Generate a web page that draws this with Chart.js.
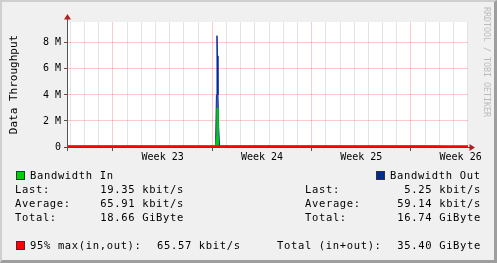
<!DOCTYPE html>
<html><head><meta charset="utf-8">
<script src="https://cdn.jsdelivr.net/npm/chart.js@4"></script>
<style>
html,body{margin:0;padding:0;background:#f0f0f0}
#wrap{position:relative;width:497px;height:263px;background:#f0f0f0;overflow:hidden}
#shade{position:absolute;left:0;top:0;width:497px;height:263px;box-sizing:border-box;border-style:solid;border-width:2px 3px 3px 2px;border-color:#cfcfcf #9e9e9e #9e9e9e #cfcfcf}
#c{position:absolute;left:0;top:0}
.t{position:absolute;font-family:'DejaVu Sans Mono',monospace;font-size:10.5px;letter-spacing:0.65px;line-height:12px;white-space:pre;color:#000}
.r{left:0;text-align:right}
.sq{position:absolute;width:9px;height:9px;box-sizing:border-box;border:1px solid #333}
.wm{position:absolute;left:482px;top:7px;writing-mode:vertical-rl;font-family:'DejaVu Sans Mono',monospace;font-size:8.3px;line-height:10px;color:#bbb;white-space:pre}
</style></head>
<body>
<div id="wrap">
<div id="shade"></div>
<canvas id="c" width="497" height="263"></canvas>
<div class="wm">RRDTOOL / TOBI OETIKER</div>
<div class="sq" style="left:16px;top:171px;background:#00cf00"></div>
<div class="t" style="left:30px;top:169px">Bandwidth In</div>
<div class="t" style="left:15px;top:183px">Last:</div>
<div class="t r" style="width:184px;top:183px">19.35 kbit/s</div>
<div class="t" style="left:15px;top:197px">Average:</div>
<div class="t r" style="width:184px;top:197px">65.91 kbit/s</div>
<div class="t" style="left:15px;top:211px">Total:</div>
<div class="t r" style="width:184px;top:211px">18.66 GiByte</div>
<div class="sq" style="left:376px;top:171px;background:#002a97"></div>
<div class="t" style="left:390px;top:169px">Bandwidth Out</div>
<div class="t" style="left:305px;top:183px">Last:</div>
<div class="t r" style="width:481px;top:183px">5.25 kbit/s</div>
<div class="t" style="left:305px;top:197px">Average:</div>
<div class="t r" style="width:481px;top:197px">59.14 kbit/s</div>
<div class="t" style="left:305px;top:211px">Total:</div>
<div class="t r" style="width:481px;top:211px">16.74 GiByte</div>
<div class="sq" style="left:16px;top:241px;background:#ff0000"></div>
<div class="t" style="left:30px;top:239px">95% max(in,out):</div>
<div class="t" style="left:157px;top:239px">65.57 kbit/s</div>
<div class="t" style="left:277px;top:239px">Total (in+out):</div>
<div class="t r" style="width:481px;top:239px">35.40 GiByte</div>
</div>
<script>
// ---- data (time in days from left edge of graph, rates in bit/s) ----
const dayPoints = [0, 1.5, 3, 4.5, 6, 7.5, 9, 10.2, 10.40, 10.46, 10.50, 10.53, 10.57, 10.62, 10.68, 11, 12.5, 14, 15.5, 17, 18.5, 20, 21.5, 23, 24.5, 26, 27.5, 28.19];
const inBps  = [52000, 61000, 58000, 64000, 55000, 60000, 57000, 59000, 60000, 800000, 2900000, 3000000, 1200000, 60000, 60000, 62000, 66000, 71000, 58000, 63000, 60000, 55000, 61000, 57000, 64000, 59000, 22000, 19350];
const outBps = [48000, 55000, 52000, 57000, 50000, 54000, 51000, 53000, 50000, 4000000, 8550000, 7000000, 4000000, 1500000, 50000, 56000, 60000, 63000, 52000, 57000, 55000, 49000, 54000, 51000, 58000, 53000, 9000, 5250];
const pct95Bps = 65570;
const xMinDay = 0, xMaxDay = 28.19;
const weekStartDays = [3.17, 10.17, 17.17, 24.17];
const weekLabels = ['Week 23', 'Week 24', 'Week 25', 'Week 26'];
const yTickValues = [0, 1e6, 2e6, 3e6, 4e6, 5e6, 6e6, 7e6, 8e6, 9e6];
const yLabels = {0: '0', 2e6: '2 M', 4e6: '4 M', 6e6: '6 M', 8e6: '8 M'};
const yMax = 9.6e6;

const weekMid = weekStartDays.map(d => d + 3.5);
const near = (a, b) => Math.abs(a - b) < 0.005;
const isWeekStart = v => weekStartDays.some(w => near(w, v));
const isDayLine = v => Math.abs((v - weekStartDays[0]) - Math.round(v - weekStartDays[0])) < 0.005;
const labelFor = v => { const i = weekMid.findIndex(m => near(m, v)); return i >= 0 ? weekLabels[i] : ''; };

const MGRID = 'rgba(240,64,64,0.28)';
const GRID = 'rgba(143,143,143,0.25)';

Chart.defaults.font.family = "'DejaVu Sans Mono', monospace";
Chart.defaults.color = '#000';

const axisDeco = {
  id: 'axisDeco',
  beforeDraw(chart) {
    const {ctx, chartArea: a} = chart;
    ctx.save();
    ctx.fillStyle = '#ffffff';
    ctx.fillRect(a.left, a.top, a.right - a.left, a.bottom - a.top);
    ctx.restore();
  },
  beforeDatasetsDraw(chart) {
    const {ctx, chartArea: a} = chart;
    ctx.save();
    ctx.lineWidth = 1;
    ctx.strokeStyle = '#b02020';
    ctx.beginPath(); ctx.moveTo(a.left - 4, a.bottom + 0.5); ctx.lineTo(a.right + 3, a.bottom + 0.5); ctx.stroke();
    ctx.restore();
  },
  afterDraw(chart) {
    const {ctx, chartArea: a} = chart;
    ctx.save();
    ctx.lineWidth = 1;
    ctx.strokeStyle = '#555';
    ctx.beginPath(); ctx.moveTo(a.left - 0.5, a.bottom + 4); ctx.lineTo(a.left - 0.5, a.top - 3); ctx.stroke();
    ctx.fillStyle = '#b02020';
    ctx.beginPath();
    ctx.moveTo(a.left - 0.5, a.top - 8); ctx.lineTo(a.left - 4, a.top - 2.5); ctx.lineTo(a.left + 3, a.top - 2.5); ctx.closePath(); ctx.fill();
    ctx.beginPath();
    ctx.moveTo(a.right + 7, a.bottom + 0.5); ctx.lineTo(a.right + 1.5, a.bottom - 3); ctx.lineTo(a.right + 1.5, a.bottom + 4); ctx.closePath(); ctx.fill();
    ctx.restore();
  }
};

new Chart(document.getElementById('c'), {
  type: 'line',
  data: {
    datasets: [
      {
        label: '95% max(in,out)',
        data: [{x: xMinDay, y: pct95Bps}, {x: xMaxDay, y: pct95Bps}],
        borderColor: '#ff0000', borderWidth: 2, pointRadius: 0, fill: false, order: 0
      },
      {
        label: 'Bandwidth In',
        data: dayPoints.map((d, i) => ({x: d, y: inBps[i]})),
        borderColor: '#00cf00', backgroundColor: '#00cf00', borderWidth: 1,
        pointRadius: 0, fill: 'origin', tension: 0, order: 1
      },
      {
        label: 'Bandwidth Out',
        data: dayPoints.map((d, i) => ({x: d, y: outBps[i]})),
        borderColor: '#002a97', backgroundColor: '#4a6cd0', borderWidth: 1,
        pointRadius: 0, fill: 'origin', tension: 0, order: 2
      }
    ]
  },
  options: {
    responsive: false, animation: false, devicePixelRatio: 1,
    layout: {padding: {left: 0, top: 22, right: 29, bottom: 0}},
    plugins: {legend: {display: false}, tooltip: {enabled: false}},
    scales: {
      x: {
        type: 'linear', min: xMinDay, max: xMaxDay, offset: false,
        border: {display: false},
        afterFit: s => { s.height = 116; },
        afterBuildTicks: s => {
          const t = [];
          const first = weekStartDays[0] - Math.floor(weekStartDays[0] - xMinDay);
          for (let d = first; d <= xMaxDay + 1e-6; d += 1) t.push({value: +d.toFixed(2)});
          weekMid.forEach(v => { if (v <= xMaxDay) t.push({value: v}); });
          t.sort((a, b) => a.value - b.value);
          s.ticks = t;
        },
        ticks: {autoSkip: false, maxRotation: 0, minRotation: 0, padding: 0, font: {size: 10},
          callback: v => labelFor(v)},
        grid: {
          lineWidth: 1, tickLength: 4,
          color: c => { const v = c.tick ? c.tick.value : NaN; if (isWeekStart(v)) return MGRID; if (isDayLine(v)) return GRID; return 'rgba(0,0,0,0)'; },
          tickColor: c => { const v = c.tick ? c.tick.value : NaN; return isWeekStart(v) ? '#555' : 'rgba(0,0,0,0)'; }
        }
      },
      y: {
        type: 'linear', min: 0, max: yMax,
        border: {display: false},
        afterFit: s => { s.width = 68; },
        afterBuildTicks: s => { s.ticks = yTickValues.map(v => ({value: v})); },
        ticks: {padding: 3, font: {size: 10}, callback: v => (yLabels[v] !== undefined ? yLabels[v] : '')},
        title: {display: true, text: 'Data Throughput', font: {size: 11}, color: '#000', padding: {top: 8, bottom: 0}},
        grid: {
          lineWidth: 1, tickLength: 4,
          color: c => { const v = c.tick ? c.tick.value : NaN; return (yLabels[v] !== undefined) ? MGRID : GRID; },
          tickColor: c => { const v = c.tick ? c.tick.value : NaN; return (yLabels[v] !== undefined) ? '#555' : 'rgba(0,0,0,0)'; }
        }
      }
    }
  },
  plugins: [axisDeco]
});
</script>
</body></html>
